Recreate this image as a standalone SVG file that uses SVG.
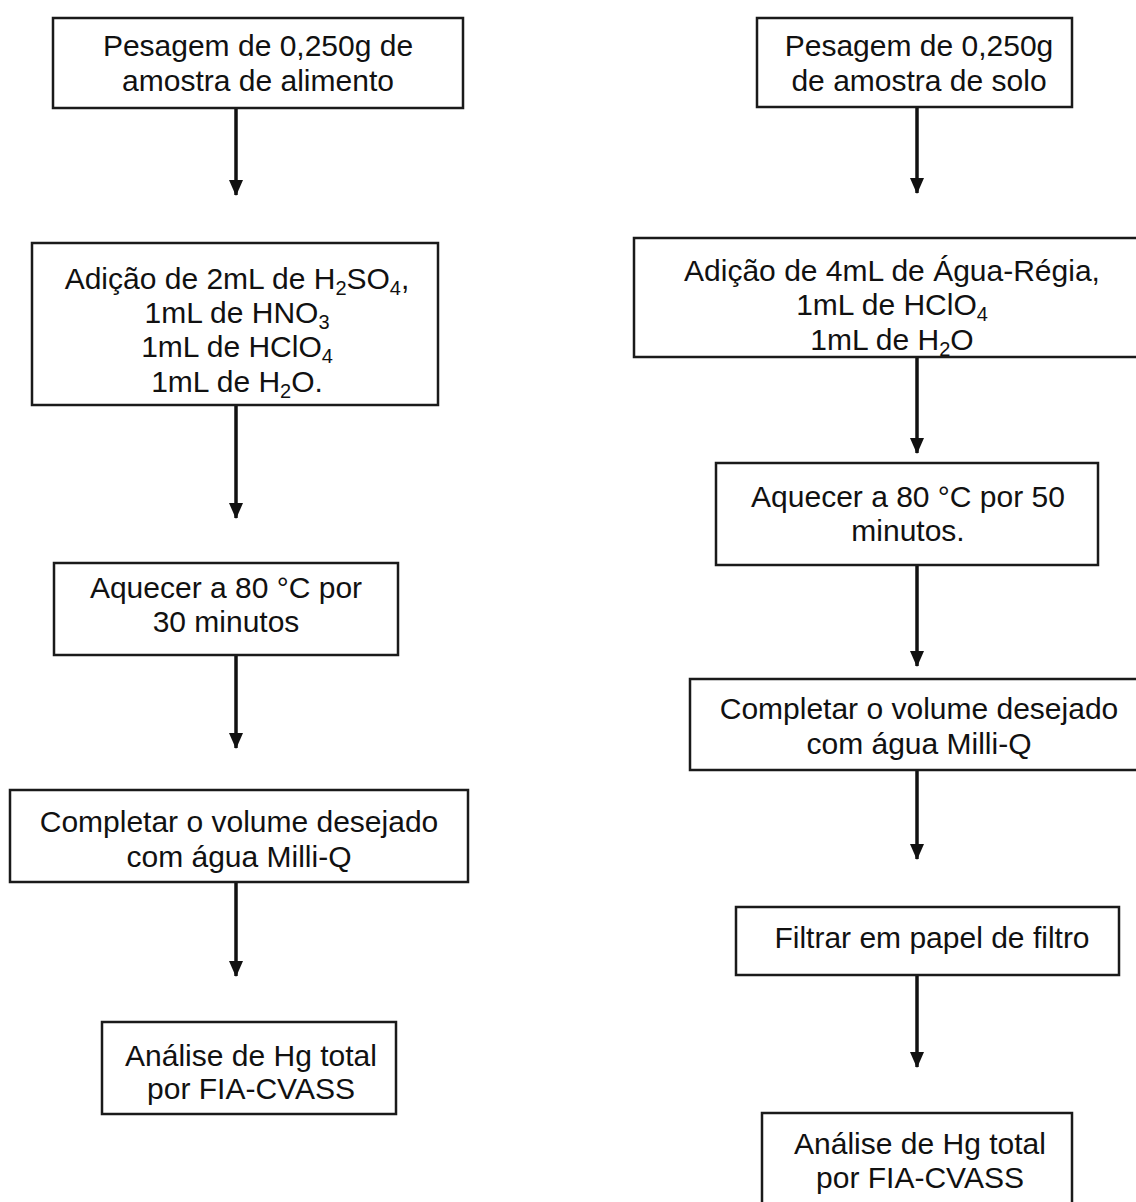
<svg xmlns="http://www.w3.org/2000/svg" width="1136" height="1202" viewBox="0 0 1136 1202">
<defs>
<style>
.box{fill:#fff;stroke:#1a1a1a;stroke-width:2.5}
.t{font-family:"Liberation Sans",Arial,sans-serif;font-size:30px;fill:#111;text-anchor:middle}
.s{font-size:20px}
.c{stroke:#111;stroke-width:3.5;fill:none}
</style>
<marker id="ah" markerUnits="userSpaceOnUse" markerWidth="16" markerHeight="14" refX="15" refY="7" orient="auto" viewBox="0 0 16 14">
<path d="M0,0 L16,7 L0,14 Z" fill="#111"/>
</marker>
</defs>
<rect width="1136" height="1202" fill="#fff"/>
<g id="connectors">
<path class="c" d="M236,108 V195" marker-end="url(#ah)"/>
<path class="c" d="M236,405 V518" marker-end="url(#ah)"/>
<path class="c" d="M236,655 V748" marker-end="url(#ah)"/>
<path class="c" d="M236,882 V976" marker-end="url(#ah)"/>
<path class="c" d="M917,107 V193" marker-end="url(#ah)"/>
<path class="c" d="M917,357 V453" marker-end="url(#ah)"/>
<path class="c" d="M917,565 V666" marker-end="url(#ah)"/>
<path class="c" d="M917,770 V859" marker-end="url(#ah)"/>
<path class="c" d="M917,975 V1067" marker-end="url(#ah)"/>
</g>
<g id="L1">
<rect class="box" x="53" y="18" width="410" height="90"/>
<text class="t" x="258" y="56">Pesagem de 0,250g de</text>
<text class="t" x="258" y="91">amostra de alimento</text>
</g>
<g id="L2">
<rect class="box" x="32" y="243" width="406" height="162"/>
<text class="t" x="237" y="289">Adição de 2mL de H<tspan class="s" dy="6">2</tspan><tspan dy="-6">SO</tspan><tspan class="s" dy="6">4</tspan><tspan dy="-6">,</tspan></text>
<text class="t" x="237" y="323">1mL de HNO<tspan class="s" dy="6">3</tspan></text>
<text class="t" x="237" y="357">1mL de HClO<tspan class="s" dy="6">4</tspan></text>
<text class="t" x="237" y="392">1mL de H<tspan class="s" dy="6">2</tspan><tspan dy="-6">O.</tspan></text>
</g>
<g id="L3">
<rect class="box" x="54" y="563" width="344" height="92"/>
<text class="t" x="226" y="598">Aquecer a 80 °C por</text>
<text class="t" x="226" y="632">30 minutos</text>
</g>
<g id="L4">
<rect class="box" x="10" y="790" width="458" height="92"/>
<text class="t" x="239" y="832">Completar o volume desejado</text>
<text class="t" x="239" y="867">com água Milli-Q</text>
</g>
<g id="L5">
<rect class="box" x="102" y="1022" width="294" height="92"/>
<text class="t" x="251" y="1066">Análise de Hg total</text>
<text class="t" x="251" y="1099">por FIA-CVASS</text>
</g>
<g id="R1">
<rect class="box" x="757" y="18" width="315" height="89"/>
<text class="t" x="919" y="56">Pesagem de 0,250g</text>
<text class="t" x="919" y="91">de amostra de solo</text>
</g>
<g id="R2">
<rect class="box" x="634" y="238" width="510" height="119"/>
<text class="t" x="892" y="281">Adição de 4mL de Água-Régia,</text>
<text class="t" x="892" y="315">1mL de HClO<tspan class="s" dy="6">4</tspan></text>
<text class="t" x="892" y="350">1mL de H<tspan class="s" dy="6">2</tspan><tspan dy="-6">O</tspan></text>
</g>
<g id="R3">
<rect class="box" x="716" y="463" width="382" height="102"/>
<text class="t" x="908" y="507">Aquecer a 80 °C por 50</text>
<text class="t" x="908" y="541">minutos.</text>
</g>
<g id="R4">
<rect class="box" x="690" y="679" width="454" height="91"/>
<text class="t" x="919" y="719">Completar o volume desejado</text>
<text class="t" x="919" y="754">com água Milli-Q</text>
</g>
<g id="R5">
<rect class="box" x="736" y="907" width="383" height="68"/>
<text class="t" x="932" y="948">Filtrar em papel de filtro</text>
</g>
<g id="R6">
<rect class="box" x="762" y="1113" width="310" height="100"/>
<text class="t" x="920" y="1154">Análise de Hg total</text>
<text class="t" x="920" y="1188">por FIA-CVASS</text>
</g>
</svg>
